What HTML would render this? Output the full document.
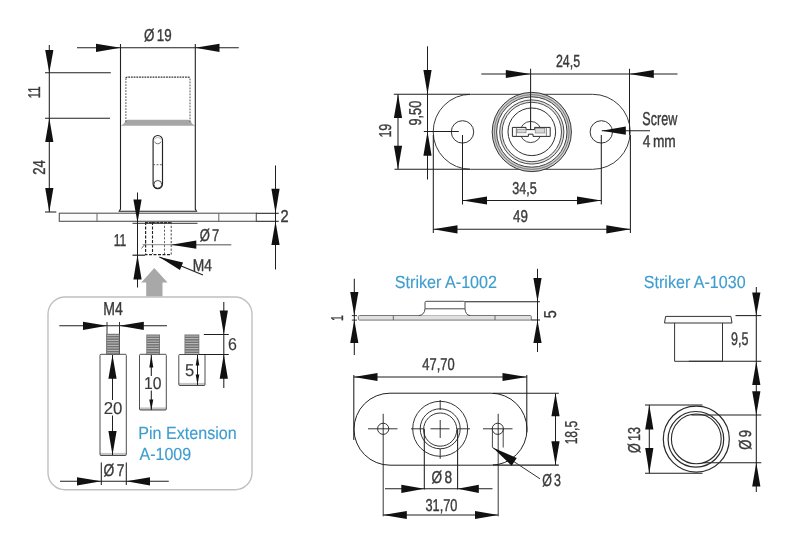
<!DOCTYPE html>
<html lang="en">
<head>
<meta charset="utf-8">
<title>Push lock technical drawing</title>
<style>
html,body{margin:0;padding:0;background:#fff;}
body{width:800px;height:543px;overflow:hidden;}
svg{display:block;}
text{font-family:"Liberation Sans","DejaVu Sans",sans-serif;text-rendering:geometricPrecision;}
text.d{stroke:#3a3a3a;stroke-width:0.4px;word-spacing:-0.1em;}
text.b{stroke:#3d9dcf;stroke-width:0.15px;}
text.n{stroke:#3a3a3a;stroke-width:0.15px;word-spacing:-0.1em;}
</style>
</head>
<body>
<svg width="800" height="543" viewBox="0 0 800 543">
<defs><filter id="soft" filterUnits="userSpaceOnUse" x="0" y="0" width="800" height="543" color-interpolation-filters="sRGB"><feGaussianBlur stdDeviation="0.3"/></filter></defs>
<rect width="800" height="543" fill="#ffffff"/>
<g filter="url(#soft)">
<!-- lock side view -->
<path d="M120.6 125.7 Q123.5 125 125 122 Q126 119.8 128 119.8 L188 119.8 Q190 119.8 191 122 Q192.5 125 195.2 125.7 Z" fill="#a6a6a6" stroke="none" stroke-width="0" />
<line x1="120.5" y1="44" x2="120.5" y2="209.5" stroke="#222" stroke-width="1.1" />
<line x1="195.3" y1="44" x2="195.3" y2="209.5" stroke="#222" stroke-width="1.1" />
<path d="M120.5 209 L119.2 211.3 L196.5 211.3 L195.3 209" fill="none" stroke="#222" stroke-width="1.1" />
<path d="M125.9 122 V78.5 M190 78.5 V122" fill="none" stroke="#555" stroke-width="1" stroke-dasharray="1.8 1.2"/>
<path d="M125.9 78.2 Q125.9 77.2 127.2 77.2 H188.7 Q190 77.2 190 78.2" fill="none" stroke="#333" stroke-width="1.2" stroke-dasharray="1.8 0.9"/>
<rect x="153.1" y="135.5" width="9.4" height="53.1" rx="4.7" fill="none" stroke="#222" stroke-width="1.15" />
<path d="M154.6 141.6 A3.4 3.4 0 0 0 161 141.6" fill="none" stroke="#555" stroke-width="0.8" />
<path d="M154.6 139.6 A3.4 3.4 0 0 1 161 139.6" fill="none" stroke="#999" stroke-width="0.6" />
<circle cx="157.8" cy="184.4" r="3.9" fill="none" stroke="#333" stroke-width="0.9" />
<line x1="153.1" y1="164.7" x2="162.5" y2="164.7" stroke="#444" stroke-width="0.8" stroke-dasharray="2 1.4"/>
<rect x="59.3" y="213.2" width="197" height="8.1" rx="0" fill="#fcfcfc" stroke="#555" stroke-width="1.1" />
<line x1="97" y1="213.3" x2="97" y2="221.3" stroke="#666" stroke-width="1" />
<line x1="218.8" y1="213.3" x2="218.8" y2="221.3" stroke="#666" stroke-width="1" />
<line x1="132.5" y1="223.3" x2="197.5" y2="223.3" stroke="#333" stroke-width="1" />
<path d="M145.6 222 V254.6 H171.2" fill="none" stroke="#222" stroke-width="1.2" stroke-dasharray="3 1.5"/>
<line x1="171.2" y1="222" x2="171.2" y2="254.6" stroke="#444" stroke-width="1" stroke-dasharray="2.2 1.6"/>
<line x1="152.5" y1="222" x2="152.5" y2="254" stroke="#222" stroke-width="1.1" stroke-dasharray="3 1.5"/>
<line x1="164.5" y1="222" x2="164.5" y2="254" stroke="#555" stroke-width="0.9" stroke-dasharray="2.2 1.6"/>
<line x1="145" y1="222.8" x2="171.3" y2="222.8" stroke="#333" stroke-width="1.6" stroke-dasharray="3 0.8"/>
<line x1="141.5" y1="248.5" x2="146" y2="243" stroke="#444" stroke-width="0.8" />
<line x1="77" y1="47.8" x2="238.8" y2="47.8" stroke="#1f1f1f" stroke-width="1.05" />
<polygon points="120.50,47.80 96.00,43.70 96.00,51.90" fill="#111"/>
<polygon points="195.20,47.80 219.50,51.90 219.50,43.70" fill="#111"/>
<text class="d" transform="translate(144.02,40.7) scale(0.7778,1)" font-size="17.2" fill="#3a3a3a">Ø 19</text>
<line x1="49.3" y1="45" x2="49.3" y2="212" stroke="#1f1f1f" stroke-width="1.05" />
<line x1="45" y1="72.8" x2="110.8" y2="72.8" stroke="#1f1f1f" stroke-width="1.05" />
<line x1="45" y1="118.2" x2="110" y2="118.2" stroke="#1f1f1f" stroke-width="1.05" />
<line x1="45" y1="212" x2="56.3" y2="212" stroke="#1f1f1f" stroke-width="1.05" />
<polygon points="49.30,72.80 53.40,50.00 45.20,50.00" fill="#111"/>
<polygon points="49.30,118.20 45.20,142.00 53.40,142.00" fill="#111"/>
<polygon points="49.30,212.00 53.40,188.00 45.20,188.00" fill="#111"/>
<text class="d" transform="translate(40,98.32) rotate(-90) scale(0.6604,1)" font-size="17.2" fill="#3a3a3a">11</text>
<text class="d" transform="translate(44.5,174.70) rotate(-90) scale(0.7618,1)" font-size="17.2" fill="#3a3a3a">24</text>
<line x1="275.5" y1="165.5" x2="275.5" y2="269.5" stroke="#1f1f1f" stroke-width="1.05" />
<line x1="256.3" y1="213.3" x2="278.8" y2="213.3" stroke="#1f1f1f" stroke-width="1.05" />
<line x1="256.3" y1="221.3" x2="278.8" y2="221.3" stroke="#1f1f1f" stroke-width="1.05" />
<polygon points="275.50,213.30 279.60,188.80 271.40,188.80" fill="#111"/>
<polygon points="275.50,221.30 271.40,245.00 279.60,245.00" fill="#111"/>
<text class="d" transform="translate(280.44,221.6) scale(0.8510,1)" font-size="17.2" fill="#3a3a3a">2</text>
<line x1="137.5" y1="192.5" x2="137.5" y2="287.5" stroke="#1f1f1f" stroke-width="1.05" />
<line x1="132.5" y1="255.2" x2="145" y2="255.2" stroke="#222" stroke-width="1.2" />
<polygon points="137.50,222.80 141.60,199.50 133.40,199.50" fill="#111"/>
<polygon points="137.50,255.00 133.40,279.50 141.60,279.50" fill="#111"/>
<text class="d" transform="translate(113.73,245.8) scale(0.7040,1)" font-size="17.2" fill="#3a3a3a">11</text>
<line x1="142.5" y1="244.7" x2="171" y2="244.7" stroke="#8a8a8a" stroke-width="1" />
<line x1="171" y1="244.7" x2="231.3" y2="244.7" stroke="#8a8a8a" stroke-width="1.4" />
<polygon points="171.30,244.70 196.30,248.80 196.30,240.60" fill="#111"/>
<text class="d" transform="translate(199.63,241.3) scale(0.7573,1)" font-size="17.2" fill="#3a3a3a">Ø 7</text>
<line x1="159.3" y1="257" x2="203" y2="275" stroke="#1f1f1f" stroke-width="1.05" />
<polygon points="159.30,257.00 179.93,269.99 183.07,262.41" fill="#111"/>
<text class="d" transform="translate(192.86,270.6) scale(0.8030,1)" font-size="17.2" fill="#3a3a3a">M4</text>
<path d="M154.3 268 L167.6 282.6 H162.5 V296.5 H146.2 V282.6 H141.2 Z" fill="#a8a8a8" stroke="none" stroke-width="0" />
<!-- pin extension box -->
<rect x="48" y="297" width="204" height="192.7" rx="17" fill="none" stroke="#c0c0c0" stroke-width="1.4" />
<text class="d" transform="translate(103.22,314.8) scale(0.7480,1)" font-size="18.8" fill="#3a3a3a">M4</text>
<line x1="59.3" y1="325.8" x2="167" y2="325.8" stroke="#1f1f1f" stroke-width="1.05" />
<line x1="107" y1="322" x2="107" y2="354" stroke="#333" stroke-width="1" />
<line x1="119.5" y1="322" x2="119.5" y2="354" stroke="#333" stroke-width="1" />
<polygon points="107.00,325.80 83.00,321.70 83.00,329.90" fill="#111"/>
<polygon points="119.30,325.80 143.80,329.90 143.80,321.70" fill="#111"/>
<rect x="106.3" y="333.8" width="13.299999999999997" height="20.5" fill="#727272"/>
<line x1="107.1" y1="335.40000000000003" x2="118.8" y2="335.40000000000003" stroke="#d2d2d2" stroke-width="0.8"/>
<line x1="107.1" y1="337.90000000000003" x2="118.8" y2="337.90000000000003" stroke="#d2d2d2" stroke-width="0.8"/>
<line x1="107.1" y1="340.40000000000003" x2="118.8" y2="340.40000000000003" stroke="#d2d2d2" stroke-width="0.8"/>
<line x1="107.1" y1="342.90000000000003" x2="118.8" y2="342.90000000000003" stroke="#d2d2d2" stroke-width="0.8"/>
<line x1="107.1" y1="345.40000000000003" x2="118.8" y2="345.40000000000003" stroke="#d2d2d2" stroke-width="0.8"/>
<line x1="107.1" y1="347.90000000000003" x2="118.8" y2="347.90000000000003" stroke="#d2d2d2" stroke-width="0.8"/>
<line x1="107.1" y1="350.40000000000003" x2="118.8" y2="350.40000000000003" stroke="#d2d2d2" stroke-width="0.8"/>
<line x1="107.1" y1="352.90000000000003" x2="118.8" y2="352.90000000000003" stroke="#d2d2d2" stroke-width="0.8"/>
<rect x="100" y="452.9" width="26.299999999999997" height="2.6" fill="#c4c4c4"/>
<rect x="100" y="354.3" width="26.299999999999997" height="101.19999999999999" rx="1" fill="none" stroke="#3a3a3a" stroke-width="0.9"/>
<rect x="146.3" y="334.5" width="13.699999999999989" height="19.80000000000001" fill="#727272"/>
<line x1="147.10000000000002" y1="336.1" x2="159.2" y2="336.1" stroke="#d2d2d2" stroke-width="0.8"/>
<line x1="147.10000000000002" y1="338.6" x2="159.2" y2="338.6" stroke="#d2d2d2" stroke-width="0.8"/>
<line x1="147.10000000000002" y1="341.1" x2="159.2" y2="341.1" stroke="#d2d2d2" stroke-width="0.8"/>
<line x1="147.10000000000002" y1="343.6" x2="159.2" y2="343.6" stroke="#d2d2d2" stroke-width="0.8"/>
<line x1="147.10000000000002" y1="346.1" x2="159.2" y2="346.1" stroke="#d2d2d2" stroke-width="0.8"/>
<line x1="147.10000000000002" y1="348.6" x2="159.2" y2="348.6" stroke="#d2d2d2" stroke-width="0.8"/>
<line x1="147.10000000000002" y1="351.1" x2="159.2" y2="351.1" stroke="#d2d2d2" stroke-width="0.8"/>
<line x1="147.10000000000002" y1="353.6" x2="159.2" y2="353.6" stroke="#d2d2d2" stroke-width="0.8"/>
<rect x="139.5" y="407.4" width="26.80000000000001" height="2.6" fill="#c4c4c4"/>
<rect x="139.5" y="354.3" width="26.80000000000001" height="55.69999999999999" rx="1" fill="none" stroke="#3a3a3a" stroke-width="0.9"/>
<rect x="184.5" y="334.5" width="14.800000000000011" height="20.0" fill="#727272"/>
<line x1="185.3" y1="336.1" x2="198.5" y2="336.1" stroke="#d2d2d2" stroke-width="0.8"/>
<line x1="185.3" y1="338.6" x2="198.5" y2="338.6" stroke="#d2d2d2" stroke-width="0.8"/>
<line x1="185.3" y1="341.1" x2="198.5" y2="341.1" stroke="#d2d2d2" stroke-width="0.8"/>
<line x1="185.3" y1="343.6" x2="198.5" y2="343.6" stroke="#d2d2d2" stroke-width="0.8"/>
<line x1="185.3" y1="346.1" x2="198.5" y2="346.1" stroke="#d2d2d2" stroke-width="0.8"/>
<line x1="185.3" y1="348.6" x2="198.5" y2="348.6" stroke="#d2d2d2" stroke-width="0.8"/>
<line x1="185.3" y1="351.1" x2="198.5" y2="351.1" stroke="#d2d2d2" stroke-width="0.8"/>
<line x1="185.3" y1="353.6" x2="198.5" y2="353.6" stroke="#d2d2d2" stroke-width="0.8"/>
<rect x="178.8" y="382.9" width="26.19999999999999" height="2.6" fill="#c4c4c4"/>
<rect x="178.8" y="354.5" width="26.19999999999999" height="31.0" rx="1" fill="none" stroke="#3a3a3a" stroke-width="0.9"/>
<line x1="112.5" y1="355" x2="112.5" y2="400" stroke="#1f1f1f" stroke-width="1.05" />
<line x1="112.5" y1="415.5" x2="112.5" y2="455" stroke="#1f1f1f" stroke-width="1.05" />
<polygon points="112.50,355.00 108.40,378.80 116.60,378.80" fill="#111"/>
<polygon points="112.50,455.00 116.60,431.00 108.40,431.00" fill="#111"/>
<text class="n" transform="translate(103.73,413.8) scale(0.9777,1)" font-size="17.2" fill="#3a3a3a">20</text>
<line x1="151.3" y1="355" x2="151.3" y2="376" stroke="#1f1f1f" stroke-width="1.05" />
<line x1="151.3" y1="390.5" x2="151.3" y2="410" stroke="#1f1f1f" stroke-width="1.05" />
<polygon points="151.30,355.00 149.30,367.50 153.30,367.50" fill="#111"/>
<polygon points="151.30,410.00 153.30,399.50 149.30,399.50" fill="#111"/>
<text class="n" transform="translate(143.89,389) scale(0.9152,1)" font-size="17.2" fill="#3a3a3a">10</text>
<line x1="197.5" y1="355" x2="197.5" y2="385" stroke="#1f1f1f" stroke-width="1.05" />
<polygon points="197.50,355.00 195.70,365.50 199.30,365.50" fill="#111"/>
<polygon points="197.50,385.00 199.30,374.50 195.70,374.50" fill="#111"/>
<text class="n" transform="translate(185.01,376.2) scale(0.9615,1)" font-size="17.2" fill="#3a3a3a">5</text>
<line x1="223.8" y1="302" x2="223.8" y2="388" stroke="#1f1f1f" stroke-width="1.05" />
<line x1="203.8" y1="334.5" x2="228.8" y2="334.5" stroke="#1f1f1f" stroke-width="1.05" />
<line x1="199" y1="354.5" x2="228.8" y2="354.5" stroke="#1f1f1f" stroke-width="1.05" />
<polygon points="223.80,334.50 227.90,310.50 219.70,310.50" fill="#111"/>
<polygon points="223.80,354.50 219.70,378.80 227.90,378.80" fill="#111"/>
<text class="n" transform="translate(228.07,350) scale(0.9303,1)" font-size="17.2" fill="#3a3a3a">6</text>
<text class="b" transform="translate(138.28,438.8) scale(0.9152,1)" font-size="17.6" fill="#3d9dcf">Pin Extension</text>
<text class="b" transform="translate(139.49,460) scale(0.9102,1)" font-size="17.6" fill="#3d9dcf">A-1009</text>
<text class="d" transform="translate(103.41,476) scale(0.8057,1)" font-size="17.2" fill="#3a3a3a">Ø 7</text>
<line x1="60" y1="481.3" x2="168.8" y2="481.3" stroke="#1f1f1f" stroke-width="1.05" />
<line x1="101.3" y1="462.5" x2="101.3" y2="485" stroke="#1f1f1f" stroke-width="1.05" />
<line x1="126.3" y1="462.5" x2="126.3" y2="485" stroke="#1f1f1f" stroke-width="1.05" />
<polygon points="101.30,481.30 77.00,477.20 77.00,485.40" fill="#111"/>
<polygon points="126.30,481.30 150.00,485.40 150.00,477.20" fill="#111"/>
<!-- lock front view -->
<rect x="433.2" y="94.3" width="197" height="75" rx="37.5" fill="none" stroke="#3a3a3a" stroke-width="1" />
<circle cx="462.5" cy="131.9" r="11.2" fill="none" stroke="#333" stroke-width="1.0" />
<circle cx="601.3" cy="131.9" r="11.2" fill="none" stroke="#333" stroke-width="1.0" />
<circle cx="531.8" cy="132" r="37.4" fill="none" stroke="#cccccc" stroke-width="4.2" />
<circle cx="531.8" cy="132" r="30.9" fill="none" stroke="#e2e2e2" stroke-width="2.4" />
<circle cx="531.8" cy="132" r="39.6" fill="none" stroke="#333" stroke-width="1.0" />
<circle cx="531.8" cy="132" r="37.4" fill="none" stroke="#666" stroke-width="0.8" />
<circle cx="531.8" cy="132" r="35.2" fill="none" stroke="#3a3a3a" stroke-width="1.0" />
<circle cx="531.8" cy="132" r="32.1" fill="none" stroke="#3a3a3a" stroke-width="0.9" />
<circle cx="531.8" cy="132" r="29.7" fill="none" stroke="#3a3a3a" stroke-width="0.9" />
<circle cx="531.8" cy="131.8" r="23.8" fill="none" stroke="#2f2f2f" stroke-width="1" />
<circle cx="530.7" cy="132" r="10.6" fill="none" stroke="#333" stroke-width="0.9" />
<path d="M512.4 127.4 H526 V129.6 H534.6 V127.4 H550.2 V136.4 H533 V134.2 H528.4 V136.4 H512.4 Z" fill="#fbfbfb" stroke="#2a2a2a" stroke-width="1" />
<path d="M516.4 127.6 V136.2 M546.4 127.6 V136.2" fill="none" stroke="#666" stroke-width="0.8" />
<rect x="517" y="129.2" width="9" height="3.6" rx="0" fill="#d8d8d8" stroke="#777" stroke-width="0.6" />
<rect x="535.2" y="128.6" width="9.6" height="4.4" rx="0" fill="#d8d8d8" stroke="#777" stroke-width="0.6" />
<line x1="481.3" y1="74" x2="677.5" y2="74" stroke="#1f1f1f" stroke-width="1.05" />
<line x1="530.6" y1="68.8" x2="530.6" y2="130" stroke="#1f1f1f" stroke-width="1.05" />
<line x1="629.5" y1="68.8" x2="629.5" y2="135" stroke="#1f1f1f" stroke-width="1.05" />
<line x1="630.4" y1="135" x2="630.4" y2="233" stroke="#1f1f1f" stroke-width="1.05" />
<polygon points="530.60,74.00 505.80,69.90 505.80,78.10" fill="#111"/>
<polygon points="629.50,74.00 653.80,78.10 653.80,69.90" fill="#111"/>
<text class="d" transform="translate(555.92,66.7) scale(0.7050,1)" font-size="17.6" fill="#3a3a3a">24,5</text>
<line x1="427.5" y1="46.3" x2="427.5" y2="179.5" stroke="#1f1f1f" stroke-width="1.05" />
<line x1="423.8" y1="131.4" x2="458.8" y2="131.4" stroke="#1f1f1f" stroke-width="1.05" />
<polygon points="427.50,94.30 431.60,70.00 423.40,70.00" fill="#111"/>
<polygon points="427.50,131.60 423.40,155.80 431.60,155.80" fill="#111"/>
<text class="d" transform="translate(421.2,125.42) rotate(-90) scale(0.7347,1)" font-size="17.2" fill="#3a3a3a">9,50</text>
<line x1="398" y1="94.3" x2="398" y2="169.3" stroke="#1f1f1f" stroke-width="1.05" />
<line x1="393.8" y1="94.3" x2="470" y2="94.3" stroke="#1f1f1f" stroke-width="1.05" />
<line x1="394.5" y1="169.3" x2="470" y2="169.3" stroke="#1f1f1f" stroke-width="1.05" />
<polygon points="398.00,94.30 393.90,118.00 402.10,118.00" fill="#111"/>
<polygon points="398.00,169.30 402.10,145.80 393.90,145.80" fill="#111"/>
<text class="d" transform="translate(391.2,137.59) rotate(-90) scale(0.7230,1)" font-size="17.2" fill="#3a3a3a">19</text>
<line x1="462.5" y1="135" x2="462.5" y2="204.5" stroke="#1f1f1f" stroke-width="1.05" />
<line x1="601.3" y1="135" x2="601.3" y2="204.5" stroke="#1f1f1f" stroke-width="1.05" />
<line x1="462.5" y1="200.5" x2="601.3" y2="200.5" stroke="#1f1f1f" stroke-width="1.05" />
<polygon points="462.50,200.50 487.00,204.60 487.00,196.40" fill="#111"/>
<polygon points="601.30,200.50 577.00,196.40 577.00,204.60" fill="#111"/>
<text class="d" transform="translate(512.14,193.6) scale(0.7328,1)" font-size="17.2" fill="#3a3a3a">34,5</text>
<line x1="433.3" y1="135" x2="433.3" y2="233" stroke="#1f1f1f" stroke-width="1.05" />
<line x1="433.3" y1="229.3" x2="630.4" y2="229.3" stroke="#1f1f1f" stroke-width="1.05" />
<polygon points="433.30,229.30 457.50,233.40 457.50,225.20" fill="#111"/>
<polygon points="630.40,229.30 606.30,225.20 606.30,233.40" fill="#111"/>
<text class="d" transform="translate(513.12,221.8) scale(0.7765,1)" font-size="17.2" fill="#3a3a3a">49</text>
<line x1="601.8" y1="130.7" x2="650" y2="130.7" stroke="#1f1f1f" stroke-width="1.05" />
<polygon points="601.80,130.70 625.80,134.80 625.80,126.60" fill="#111"/>
<text class="d" transform="translate(642.37,124.7) scale(0.6768,1)" font-size="18.6" fill="#3a3a3a">Screw</text>
<text class="d" transform="translate(642.82,146.8) scale(0.7991,1)" font-size="17.2" fill="#3a3a3a">4 mm</text>
<!-- striker A-1002 -->
<text class="b" transform="translate(394.84,288) scale(0.9166,1)" font-size="17.6" fill="#3d9dcf">Striker A-1002</text>
<rect x="358.3" y="315.5" width="173" height="4.6" rx="1" fill="#e0e0e0" stroke="#777" stroke-width="1" />
<line x1="393.3" y1="315.6" x2="393.3" y2="320" stroke="#666" stroke-width="1" />
<line x1="495" y1="315.6" x2="495" y2="320" stroke="#666" stroke-width="1" />
<path d="M418.8 315.6 Q424.5 315 425 308.8 V302.5 Q425 301.3 426.2 301.3 H463.8 Q465 301.3 465 302.5 V308.8 Q465.5 315 470 315.6" fill="#ffffff" stroke="#4a4a4a" stroke-width="1" />
<line x1="425" y1="308.8" x2="465" y2="308.8" stroke="#4a4a4a" stroke-width="1" />
<line x1="351.8" y1="315.6" x2="357" y2="315.6" stroke="#1f1f1f" stroke-width="0.9" />
<line x1="351.8" y1="320.1" x2="357" y2="320.1" stroke="#1f1f1f" stroke-width="0.9" />
<line x1="354.3" y1="278.8" x2="354.3" y2="355" stroke="#1f1f1f" stroke-width="1.05" />
<polygon points="354.30,315.60 358.40,292.00 350.20,292.00" fill="#111"/>
<polygon points="354.30,319.80 350.20,343.00 358.40,343.00" fill="#111"/>
<text class="d" transform="translate(343.2,321.07) rotate(-90) scale(0.6157,1)" font-size="17.2" fill="#3a3a3a">1</text>
<line x1="537.5" y1="268.8" x2="537.5" y2="352" stroke="#1f1f1f" stroke-width="1.05" />
<line x1="465" y1="301.8" x2="540" y2="301.8" stroke="#1f1f1f" stroke-width="1.05" />
<line x1="531" y1="320" x2="540" y2="320" stroke="#1f1f1f" stroke-width="1.05" />
<polygon points="537.50,301.80 541.60,278.00 533.40,278.00" fill="#111"/>
<polygon points="537.50,320.00 533.40,343.00 541.60,343.00" fill="#111"/>
<text class="d" transform="translate(555.8,318.21) rotate(-90) scale(0.8401,1)" font-size="17.2" fill="#3a3a3a">5</text>
<line x1="353.8" y1="377" x2="526.8" y2="377" stroke="#1f1f1f" stroke-width="1.05" />
<line x1="353.8" y1="375" x2="353.8" y2="440" stroke="#1f1f1f" stroke-width="1.05" />
<line x1="526.8" y1="375" x2="526.8" y2="432.5" stroke="#1f1f1f" stroke-width="1.05" />
<polygon points="353.80,377.00 377.50,381.10 377.50,372.90" fill="#111"/>
<polygon points="526.80,377.00 502.50,372.90 502.50,381.10" fill="#111"/>
<text class="d" transform="translate(422.33,370.4) scale(0.7521,1)" font-size="17.2" fill="#3a3a3a">47,70</text>
<rect x="354" y="393.2" width="173" height="72" rx="36" fill="none" stroke="#222" stroke-width="1.0" />
<circle cx="383.2" cy="428.8" r="5.6" fill="none" stroke="#333" stroke-width="1.0" />
<line x1="368" y1="428.8" x2="397.5" y2="428.8" stroke="#1f1f1f" stroke-width="0.9" />
<line x1="383.2" y1="413.8" x2="383.2" y2="516.3" stroke="#1f1f1f" stroke-width="0.9" />
<circle cx="440.2" cy="428.8" r="27.5" fill="none" stroke="#333" stroke-width="1.0" />
<circle cx="440.2" cy="428.8" r="20" fill="none" stroke="#333" stroke-width="1.0" />
<circle cx="440.2" cy="429.6" r="16.6" fill="none" stroke="#333" stroke-width="1.0" />
<line x1="430.5" y1="428.8" x2="449.5" y2="428.8" stroke="#1f1f1f" stroke-width="0.9" />
<line x1="440.2" y1="420" x2="440.2" y2="438" stroke="#1f1f1f" stroke-width="0.9" />
<line x1="440.2" y1="400" x2="440.2" y2="410" stroke="#1f1f1f" stroke-width="0.9" />
<line x1="440.2" y1="448.8" x2="440.2" y2="458.8" stroke="#1f1f1f" stroke-width="0.9" />
<line x1="411" y1="428.8" x2="423.8" y2="428.8" stroke="#1f1f1f" stroke-width="0.9" />
<line x1="457.5" y1="428.8" x2="470" y2="428.8" stroke="#1f1f1f" stroke-width="0.9" />
<circle cx="497.8" cy="428.8" r="5.6" fill="none" stroke="#333" stroke-width="1.0" />
<line x1="492.4" y1="429" x2="492.4" y2="447.5" stroke="#333" stroke-width="0.9" />
<line x1="503.2" y1="429" x2="503.2" y2="447.5" stroke="#333" stroke-width="0.9" />
<line x1="483" y1="428.8" x2="512.5" y2="428.8" stroke="#1f1f1f" stroke-width="0.9" />
<line x1="498.2" y1="413.8" x2="498.2" y2="516.3" stroke="#1f1f1f" stroke-width="0.9" />
<line x1="424.3" y1="428.8" x2="424.3" y2="489.5" stroke="#1f1f1f" stroke-width="1.05" />
<line x1="457.6" y1="428.8" x2="457.6" y2="489.5" stroke="#1f1f1f" stroke-width="1.05" />
<line x1="385" y1="488.8" x2="492.5" y2="488.8" stroke="#1f1f1f" stroke-width="1.05" />
<polygon points="424.30,488.80 401.30,484.70 401.30,492.90" fill="#111"/>
<polygon points="457.60,488.80 478.80,492.90 478.80,484.70" fill="#111"/>
<text class="d" transform="translate(431.61,483.2) scale(0.7921,1)" font-size="17.2" fill="#3a3a3a">Ø 8</text>
<line x1="383.2" y1="515" x2="498.2" y2="515" stroke="#1f1f1f" stroke-width="1.05" />
<polygon points="383.20,515.00 406.80,519.10 406.80,510.90" fill="#111"/>
<polygon points="498.20,515.00 475.00,510.90 475.00,519.10" fill="#111"/>
<text class="d" transform="translate(425.44,510.8) scale(0.7424,1)" font-size="17.2" fill="#3a3a3a">31,70</text>
<line x1="493" y1="393.3" x2="558.8" y2="393.3" stroke="#1f1f1f" stroke-width="1.05" />
<line x1="493" y1="465.1" x2="558.8" y2="465.1" stroke="#1f1f1f" stroke-width="1.05" />
<line x1="555.5" y1="393.3" x2="555.5" y2="465" stroke="#1f1f1f" stroke-width="1.05" />
<polygon points="555.50,393.30 551.40,416.30 559.60,416.30" fill="#111"/>
<polygon points="555.50,465.10 559.60,441.30 551.40,441.30" fill="#111"/>
<text class="d" transform="translate(576.5,444.37) rotate(-90) scale(0.7027,1)" font-size="17.2" fill="#3a3a3a">18,5</text>
<line x1="492.5" y1="447.5" x2="540" y2="478.8" stroke="#333" stroke-width="1" />
<polygon points="492.70,447.60 511.66,465.64 516.74,457.96" fill="#111"/>
<text class="d" transform="translate(542.15,485.8) scale(0.7226,1)" font-size="17.2" fill="#3a3a3a">Ø 3</text>
<!-- striker A-1030 -->
<text class="b" transform="translate(643.85,288) scale(0.9124,1)" font-size="17.6" fill="#3d9dcf">Striker A-1030</text>
<line x1="756.3" y1="287" x2="756.3" y2="492" stroke="#1f1f1f" stroke-width="1.05" />
<polygon points="756.30,315.60 760.40,292.50 752.20,292.50" fill="#111"/>
<polygon points="756.30,361.60 752.20,385.00 760.40,385.00" fill="#111"/>
<polygon points="756.30,415.00 760.40,391.30 752.20,391.30" fill="#111"/>
<polygon points="756.30,462.80 752.20,486.50 760.40,486.50" fill="#111"/>
<line x1="735.5" y1="315.6" x2="761.3" y2="315.6" stroke="#1f1f1f" stroke-width="1.05" />
<line x1="688.8" y1="361.3" x2="761.3" y2="361.3" stroke="#1f1f1f" stroke-width="1.05" />
<line x1="691.3" y1="415" x2="761.3" y2="415" stroke="#1f1f1f" stroke-width="1.05" />
<line x1="703.8" y1="462.7" x2="761.3" y2="462.7" stroke="#1f1f1f" stroke-width="1.05" />
<path d="M664.5 323 L665.6 316.4 H730.9 L732 323 Z" fill="#fbfbfb" stroke="#333" stroke-width="1" />
<path d="M674.6 323 V361.3 H722.5 V323" fill="none" stroke="#333" stroke-width="1" />
<text class="d" transform="translate(731.07,344.8) scale(0.6873,1)" font-size="18.2" fill="#3a3a3a">9,5</text>
<circle cx="696.3" cy="439.1" r="33" fill="none" stroke="#2a2a2a" stroke-width="1.2" />
<circle cx="695.9" cy="439.3" r="27.8" fill="none" stroke="#2a2a2a" stroke-width="1.2" />
<circle cx="696.3" cy="438.9" r="24.9" fill="none" stroke="#2a2a2a" stroke-width="1.1" />
<line x1="649.3" y1="405" x2="649.3" y2="473.3" stroke="#1f1f1f" stroke-width="1.05" />
<line x1="645" y1="405" x2="702.5" y2="405" stroke="#1f1f1f" stroke-width="1.05" />
<line x1="645" y1="473.3" x2="702.5" y2="473.3" stroke="#1f1f1f" stroke-width="1.05" />
<polygon points="649.30,405.00 645.20,429.50 653.40,429.50" fill="#111"/>
<polygon points="649.30,473.30 653.40,448.00 645.20,448.00" fill="#111"/>
<text class="d" transform="translate(640,452.96) rotate(-90) scale(0.7314,1)" font-size="17.2" fill="#3a3a3a">Ø 13</text>
<text class="d" transform="translate(751.2,449.67) rotate(-90) scale(0.7587,1)" font-size="17.2" fill="#3a3a3a">Ø 9</text>
</g>
</svg>
</body>
</html>
